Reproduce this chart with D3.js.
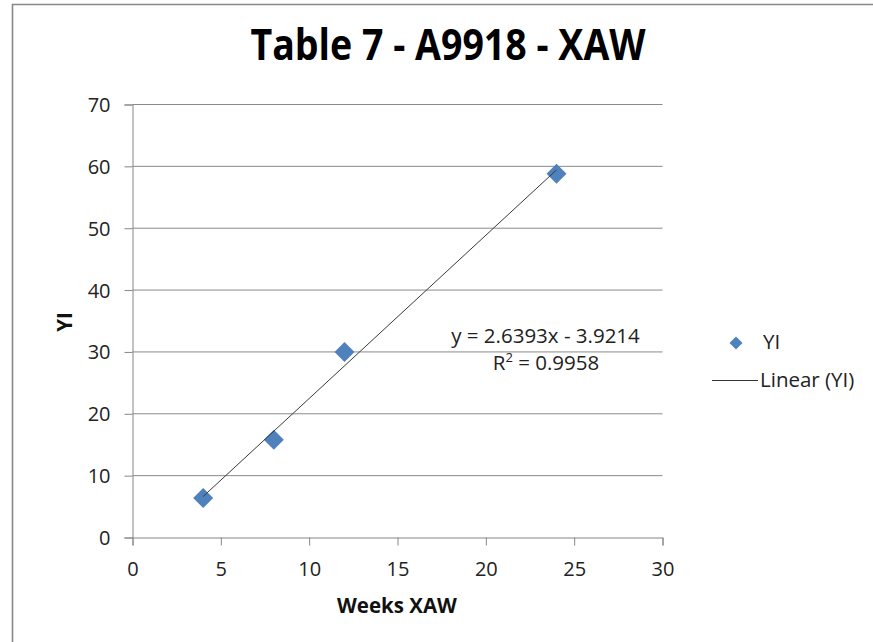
<!DOCTYPE html>
<html><head><meta charset="utf-8">
<script src="https://cdn.jsdelivr.net/npm/d3@7/dist/d3.min.js"></script>
<style>body{margin:0;background:#fff}svg{display:block}text{font-family:"Open Sans",sans-serif}</style>
</head><body>
<script>
const weeks = [4, 8, 12, 24];
const yi = [6.4, 15.8, 30, 58.8];
const xTicks = [0, 5, 10, 15, 20, 25, 30];
const yTicks = [0, 10, 20, 30, 40, 50, 60, 70];
const title = "Table 7 - A9918 - XAW";
const xTitle = "Weeks XAW";
const yTitle = "YI";
const slope = 2.6393, intercept = -3.9214, r2 = 0.9958;

const W = 873, H = 642;
const svg = d3.select("body").append("svg").attr("width", W).attr("height", H);
svg.append("rect").attr("width", W).attr("height", H).attr("fill", "#fff");
// chart border (top and left visible)
svg.append("path").attr("d", `M12.5,${H}V4.5H${W}`).attr("fill", "none").attr("stroke", "#888").attr("stroke-width", 1.6);

const x = d3.scaleLinear().domain([0, 30]).range([132.5, 662.5]);
const y = d3.scaleLinear().domain([0, 70]).range([537.5, 104.5]);

// gridlines
svg.append("g").selectAll("line").data(yTicks.filter(d => d > 0)).join("line")
  .attr("x1", x(0)).attr("x2", x(30)).attr("y1", d => y(d)).attr("y2", d => y(d))
  .attr("stroke", "#8a8a8a").attr("stroke-width", 1);

const xAxis = svg.append("g").attr("transform", `translate(0,${y(0)})`)
  .call(d3.axisBottom(x).tickValues(xTicks).tickSize(8).tickPadding(16).tickFormat(d3.format("d")));
const yAxis = svg.append("g").attr("transform", `translate(${x(0)},0)`)
  .call(d3.axisLeft(y).tickValues(yTicks).tickSize(8).tickPadding(14).tickFormat(d3.format("d")));
[xAxis, yAxis].forEach(a => {
  a.selectAll("path,line").attr("stroke", "#868686");
  a.selectAll("text").attr("fill", "#222").style("font-size", "20px").style("font-family", "'Open Sans',sans-serif");
});
yAxis.selectAll("text").attr("dy", "0.35em");

// points
const diamond = d3.symbol().type(d3.symbolSquare).size(200);
svg.append("g").selectAll("path").data(weeks.map((w, i) => [w, yi[i]])).join("path")
  .attr("d", diamond).attr("transform", d => `translate(${x(d[0])},${y(d[1])}) rotate(45)`)
  .attr("fill", "#4f81bd");
// trendline
const xs = [d3.min(weeks), d3.max(weeks)];
svg.append("line").attr("x1", x(xs[0])).attr("y1", y(slope * xs[0] + intercept))
  .attr("x2", x(xs[1])).attr("y2", y(slope * xs[1] + intercept))
  .attr("stroke", "#3a3a3a").attr("stroke-width", 1);

// title
svg.append("text").attr("transform", "translate(448,60) scale(0.873,1)").attr("text-anchor", "middle")
  .style("font-size", "43px").style("font-weight", "bold").attr("fill", "#000").text(title);
svg.append("text").attr("x", 397).attr("y", 613).attr("text-anchor", "middle")
  .style("font-size", "20.5px").style("font-weight", "bold").attr("fill", "#111").text(xTitle);
svg.append("text").attr("transform", "translate(72,322) rotate(-90)").attr("text-anchor", "middle")
  .style("font-size", "20.5px").style("font-weight", "bold").attr("fill", "#111").text(yTitle);

// equation
svg.append("text").attr("x", 545.5).attr("y", 343).attr("text-anchor", "middle")
  .style("font-size", "20.5px").attr("fill", "#222").text(`y = ${slope}x - ${Math.abs(intercept)}`);
const rt = svg.append("text").attr("x", 546).attr("y", 370).attr("text-anchor", "middle")
  .style("font-size", "20.5px").attr("fill", "#222");
rt.append("tspan").text("R");
rt.append("tspan").attr("dy", -8).style("font-size", "13px").text("2");
rt.append("tspan").attr("dy", 8).text(` = ${r2}`);

// legend
svg.append("path").attr("d", d3.symbol().type(d3.symbolSquare).size(85))
  .attr("transform", "translate(736,343) rotate(45)").attr("fill", "#4f81bd");
svg.append("text").attr("x", 763).attr("y", 349).style("font-size", "20.5px").attr("fill", "#222").text(yTitle);
svg.append("line").attr("x1", 712).attr("x2", 758).attr("y1", 380.5).attr("y2", 380.5).attr("stroke", "#333").attr("stroke-width", 1);
svg.append("text").attr("x", 760).attr("y", 387).style("font-size", "20.5px").attr("fill", "#222").text(`Linear (${yTitle})`);
</script>
</body></html>
